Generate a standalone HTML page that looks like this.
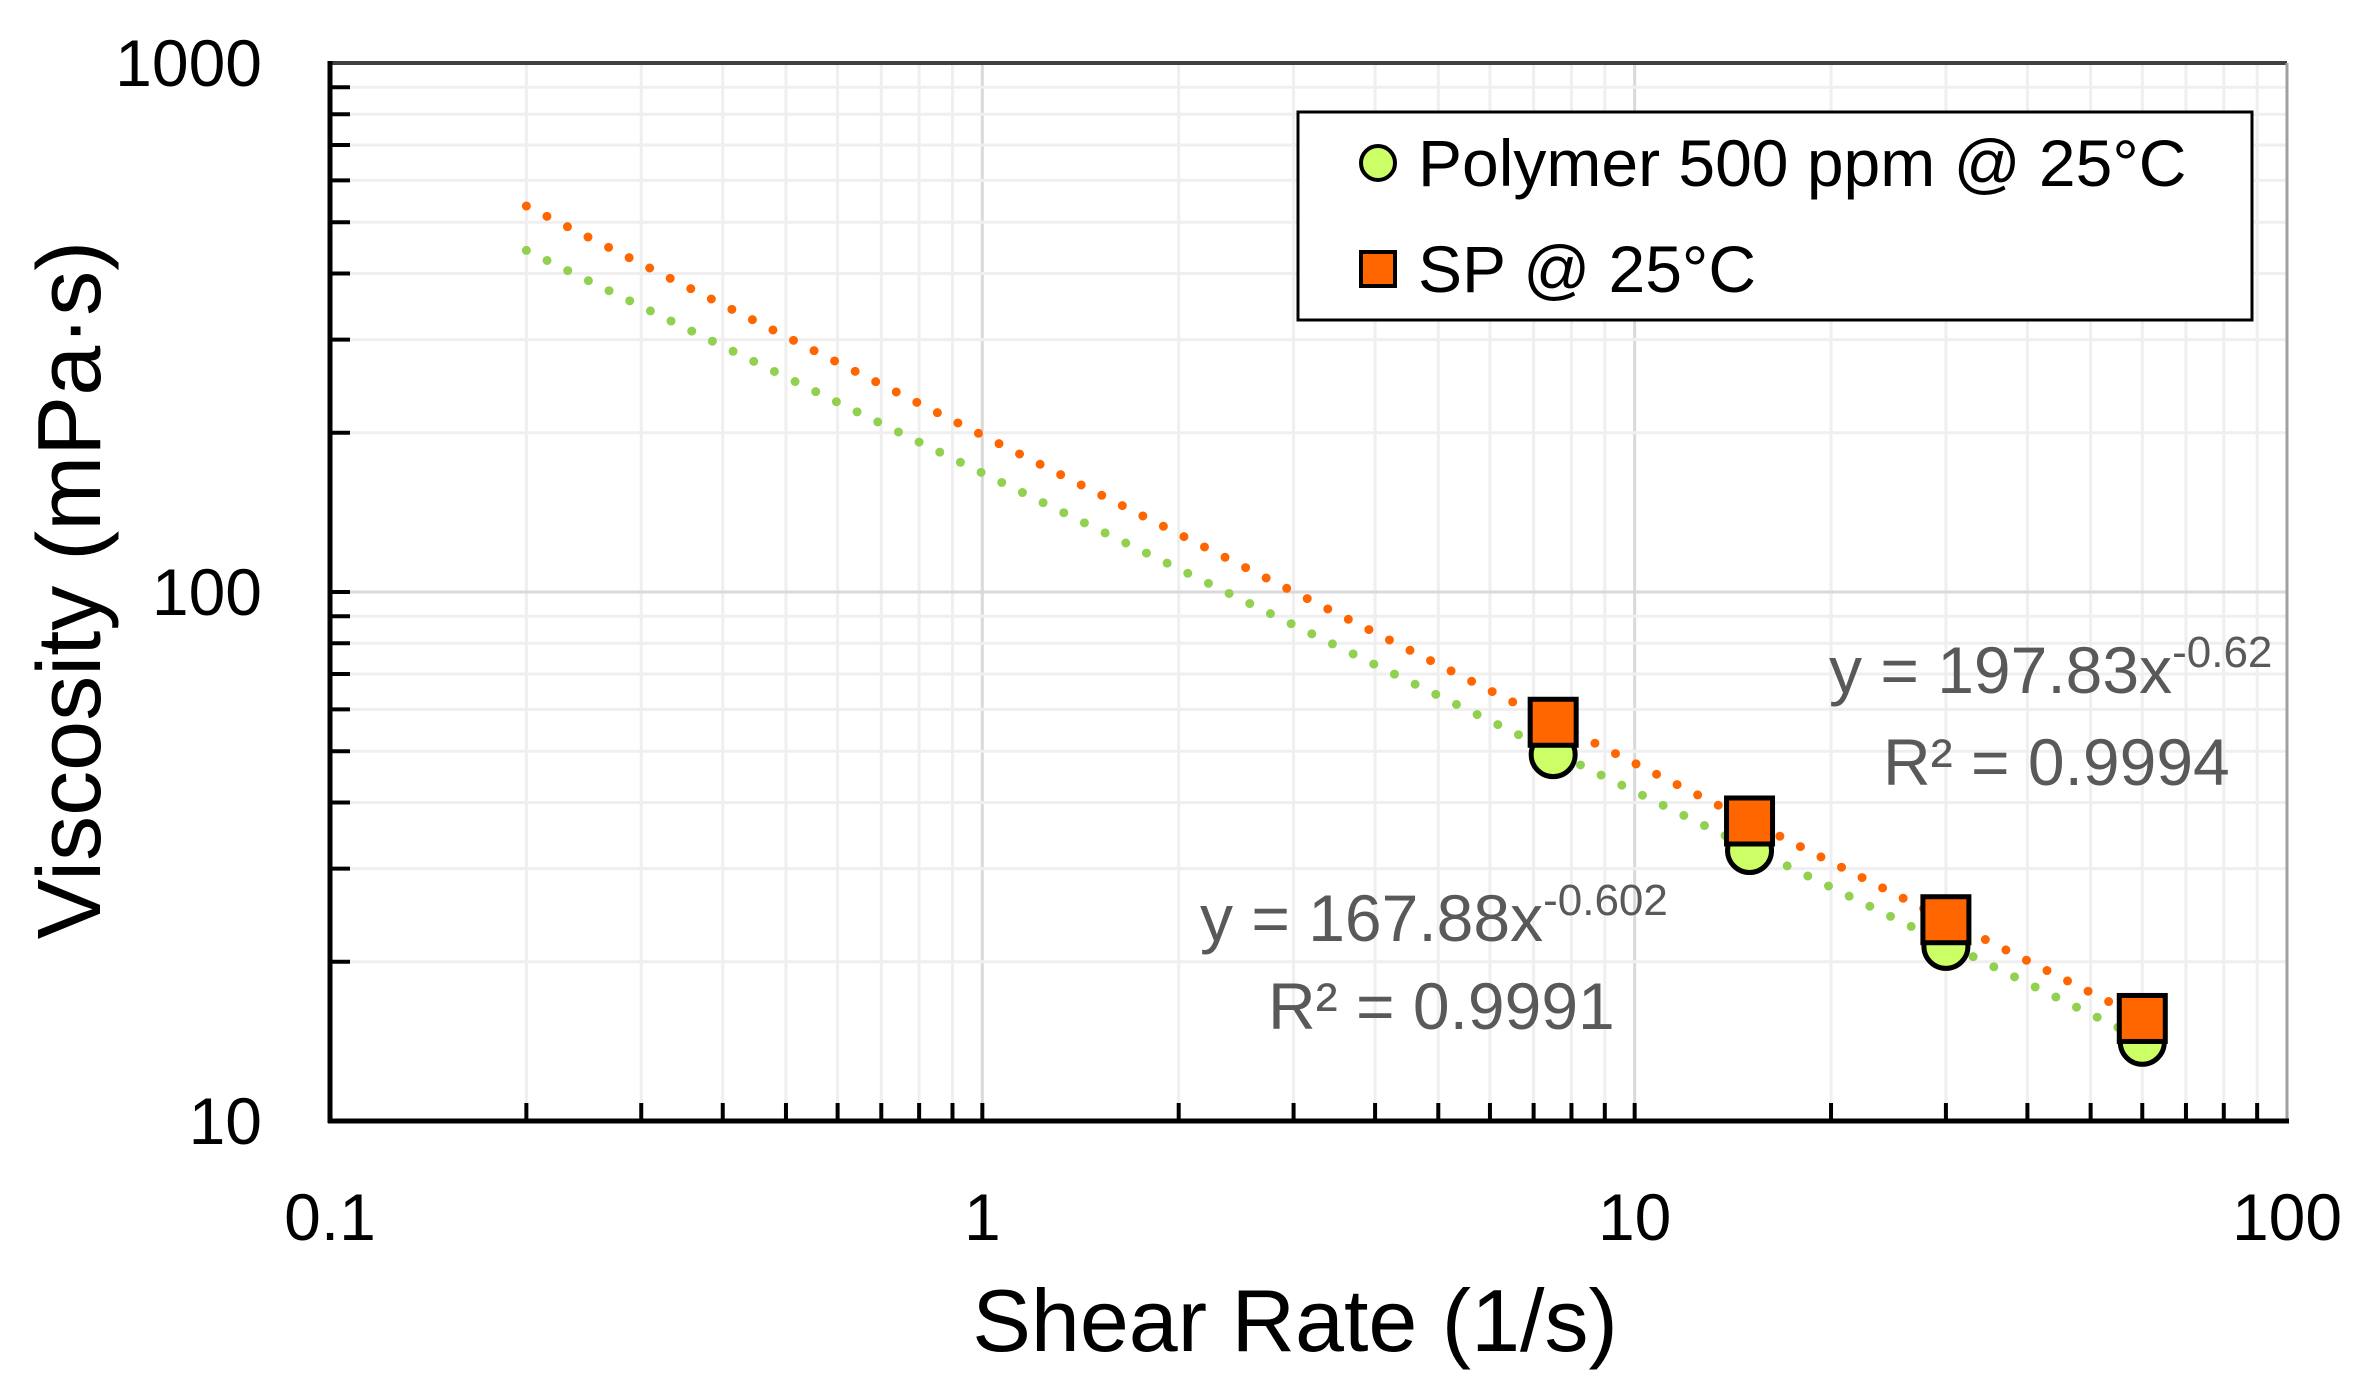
<!DOCTYPE html>
<html><head><meta charset="utf-8"><style>
html,body{margin:0;padding:0;background:#fff}
svg{display:block}
text{font-family:"Liberation Sans","DejaVu Sans",sans-serif}
</style></head><body>
<svg width="2366" height="1391" viewBox="0 0 2366 1391" xmlns="http://www.w3.org/2000/svg">
<g id="grid"></g>
<script>
(function(){
const L=330,R=2287,T=63,B=1121,dx=(R-L)/3,dy=(B-T)/2;
const X=v=>L+(Math.log10(v)+1)*dx, Y=v=>B-(Math.log10(v)-1)*dy;
const ns="http://www.w3.org/2000/svg";
const svg=document.currentScript.parentNode;
function el(n,a,p){const e=document.createElementNS(ns,n);for(const k in a)e.setAttribute(k,a[k]);(p||svg).appendChild(e);return e;}
const g=svg.querySelector('#grid');
for(let d=0;d<3;d++)for(let m=1;m<=9;m++){const v=Math.pow(10,d-1)*m;const x=X(v);if(m==1&&d==0)continue;
 el('line',{x1:x,x2:x,y1:T,y2:B,stroke:m==1?'#d9d9d9':'#efefef','stroke-width':3},g);}
for(let d=0;d<2;d++)for(let m=1;m<=9;m++){const v=Math.pow(10,d+1)*m;const y=Y(v);if(m==1&&d==0)continue;
 el('line',{x1:L,x2:R,y1:y,y2:y,stroke:m==1?'#d9d9d9':'#efefef','stroke-width':3},g);}
for(let d=0;d<3;d++)for(let m=1;m<=9;m++){const x=X(Math.pow(10,d-1)*m);el('line',{x1:x,x2:x,y1:B,y2:B-18,stroke:'#000','stroke-width':4});}
for(let d=0;d<2;d++)for(let m=1;m<=9;m++){const y=Y(Math.pow(10,d+1)*m);el('line',{x1:L,x2:L+20,y1:y,y2:y,stroke:'#000','stroke-width':4});}
el('line',{x1:L,x2:R,y1:T,y2:T,stroke:'#404040','stroke-width':4});
el('line',{x1:R,x2:R,y1:T,y2:B,stroke:'#a0a0a0','stroke-width':3});
el('line',{x1:L,x2:L,y1:T-2,y2:B+2,stroke:'#000','stroke-width':5});
el('line',{x1:L-2,x2:R+2,y1:B,y2:B,stroke:'#000','stroke-width':5});
function trend(a,b,c){let pts=[];for(let i=0;i<=200;i++){const v=0.2*Math.pow(300,i/200);pts.push(X(v)+','+Y(a*Math.pow(v,b)));}
 el('polyline',{points:pts.join(' '),fill:'none',stroke:c,'stroke-width':9,'stroke-linecap':'round','stroke-dasharray':'0 23'});}
trend(167.88,-0.602,'#92d050');
trend(197.83,-0.62,'#ff6600');
const xs=[7.5,15,30,60];
xs.forEach(v=>{el('circle',{cx:X(v),cy:Y(167.88*Math.pow(v,-0.602))+3,r:22,fill:'#ccff66',stroke:'#000','stroke-width':5});});
xs.forEach(v=>{const y=Y(197.83*Math.pow(v,-0.62));el('rect',{x:X(v)-23,y:y-23,width:46,height:46,fill:'#ff6600',stroke:'#000','stroke-width':5});});
const lab=(t,x,y,a,s,c)=>{const e=el('text',{x:x,y:y,'text-anchor':a,'font-size':s,fill:c||'#000'});e.textContent=t;return e;};
[['1000',1000],['100',100],['10',10]].forEach(([t,v])=>lab(t,262,Y(v)+23,'end',66));
[['0.1',0.1],['1',1],['10',10],['100',100]].forEach(([t,v])=>lab(t,X(v),1240,'middle',66));
lab('Shear Rate  (1/s)',1295,1351,'middle',88);
const yt=lab('Viscosity (mPa·s)',0,0,'middle',90);yt.setAttribute('transform','translate(100,590) rotate(-90)');
const a1=lab('y = 197.83x',1829,693,'start',66,'#595959');const s1=el('tspan',{dy:-26,'font-size':44},a1);s1.textContent='-0.62';
lab('R² = 0.9994',1883,785,'start',66,'#595959');
const a2=lab('y = 167.88x',1200,941,'start',66,'#595959');const s2=el('tspan',{dy:-26,'font-size':44},a2);s2.textContent='-0.602';
lab('R² = 0.9991',1268,1029,'start',66,'#595959');
el('rect',{x:1298,y:112,width:954,height:208,fill:'#fff',stroke:'#000','stroke-width':3});
el('circle',{cx:1378,cy:163,r:17,fill:'#ccff66',stroke:'#000','stroke-width':4});
lab('Polymer 500 ppm @ 25°C',1418,186,'start',66);
el('rect',{x:1361,y:252,width:34,height:34,fill:'#ff6600',stroke:'#000','stroke-width':4});
lab('SP @ 25°C',1418,292,'start',66);
})();
</script>
</svg>
</body></html>
